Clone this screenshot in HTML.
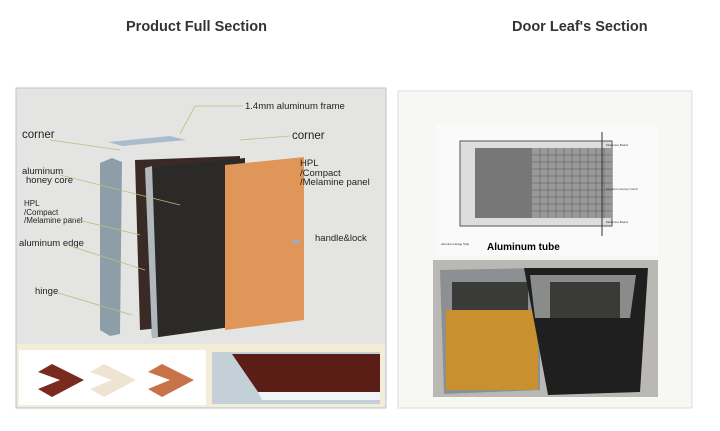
<!DOCTYPE html>
<html><head><meta charset="utf-8"><style>
body{margin:0;width:720px;height:431px;background:#fff;position:relative;overflow:hidden;font-family:"Liberation Sans",sans-serif}
.t{position:absolute;top:19px;font-weight:bold;font-size:14.5px;color:#333}
</style></head><body>
<div class="t" style="left:126px">Product Full Section</div>
<div class="t" style="left:512px">Door Leaf's Section</div>
<svg width="720" height="431" style="position:absolute;left:0;top:0" font-family="Liberation Sans, sans-serif">
<rect x="16" y="88" width="370" height="320" fill="#e4e5e3" stroke="#b9c6cf"/>
<rect x="17" y="344" width="368" height="63" fill="#f3ecd9"/>
<rect x="19" y="350" width="187" height="55" fill="#fff"/>
<rect x="212" y="352" width="168" height="52" fill="#c4d0d8"/>
<polygon points="232,354 380,354 380,392 258,392" fill="#5a1e16"/>
<polygon points="258,392 380,392 380,400 262,400" fill="#f0f4f6"/>
<polygon points="38,372 52,364 84,380 52,397 38,389 60,380" fill="#7a2a1e"/>
<polygon points="90,372 104,364 136,380 104,397 90,389 112,380" fill="#efe3d2"/>
<polygon points="148,372 162,364 194,380 162,397 148,389 170,380" fill="#c8724a"/>
<polygon points="108,142 170,136 186,140 122,146" fill="#a9bccb"/>
<polygon points="100,163 112,158 122,162 120,334 110,336 100,330" fill="#8d9ea8"/>
<polygon points="135,160 240,156 240,320 140,330" fill="#3a2a26"/>
<polygon points="145,168 245,158 245,325 152,338" fill="#2b2a28"/>
<polygon points="145,168 152,166 158,337 152,338" fill="#b0b8bd"/>
<polygon points="225,165 304,157 304,320 225,330" fill="#df9658"/>
<rect x="292" y="240" width="8" height="4" fill="#aaa"/>
<g font-size="9.5" fill="#222">
<text x="22" y="138" font-size="11.5">corner</text>
<text x="22" y="174">aluminum</text>
<text x="26" y="183">honey core</text>
<text x="24" y="206" font-size="8">HPL</text>
<text x="24" y="215" font-size="8">/Compact</text>
<text x="24" y="223" font-size="8">/Melamine panel</text>
<text x="19" y="246">aluminum edge</text>
<text x="35" y="294">hinge</text>
<text x="245" y="109">1.4mm aluminum frame</text>
<text x="292" y="139" font-size="11.5">corner</text>
<text x="300" y="166">HPL</text>
<text x="300" y="176">/Compact</text>
<text x="300" y="185">/Melamine panel</text>
<text x="315" y="241">handle&amp;lock</text>
</g>
<g stroke="#b8bf80" stroke-width="0.8" fill="none">
<path d="M180,134 L195,106 L243,106"/><path d="M50,140 L120,150"/><path d="M290,136 L240,140"/>
<path d="M60,175 L180,205"/><path d="M70,218 L140,235"/><path d="M70,246 L145,270"/><path d="M55,292 L132,315"/>
</g>
<rect x="398" y="91" width="294" height="317" fill="#f7f7f3" stroke="#ddd"/>
<rect x="436" y="125" width="222" height="130" fill="#fafafa"/>
<rect x="460" y="141" width="152" height="85" fill="#ddd" stroke="#555"/>
<rect x="475" y="148" width="137" height="70" fill="#777"/>
<rect x="532" y="148" width="80" height="70" fill="#999"/>
<g stroke="#555" stroke-width="0.5">
<path d="M532,155H612M532,162H612M532,169H612M532,176H612M532,183H612M532,190H612M532,197H612M532,204H612M532,211H612"/>
<path d="M540,148V218M548,148V218M556,148V218M564,148V218M572,148V218M580,148V218M588,148V218M596,148V218M604,148V218"/>
</g>
<line x1="602" y1="132" x2="602" y2="236" stroke="#333"/>
<text x="487" y="250" font-size="10" font-weight="bold">Aluminum tube</text>
<g font-size="3" fill="#333"><text x="606" y="146">Melamine Board</text><text x="606" y="190">Aluminum Honey Comb</text><text x="606" y="223">Melamine Board</text><text x="441" y="245">Aluminum Edge Strip</text></g>
<rect x="433" y="260" width="225" height="137" fill="#b9b8b4"/>
<polygon points="440,270 540,268 540,390 444,394" fill="#8c9092"/>
<rect x="452" y="282" width="76" height="28" fill="#3a3a38"/>
<rect x="446" y="310" width="92" height="80" fill="#c8902e"/>
<polygon points="524,268 648,268 640,392 548,395" fill="#1f1f1f"/>
<polygon points="530,275 636,275 630,318 535,318" fill="#8a8c8c"/>
<rect x="550" y="282" width="70" height="36" fill="#3a3a36"/>
</svg>
</body></html>
